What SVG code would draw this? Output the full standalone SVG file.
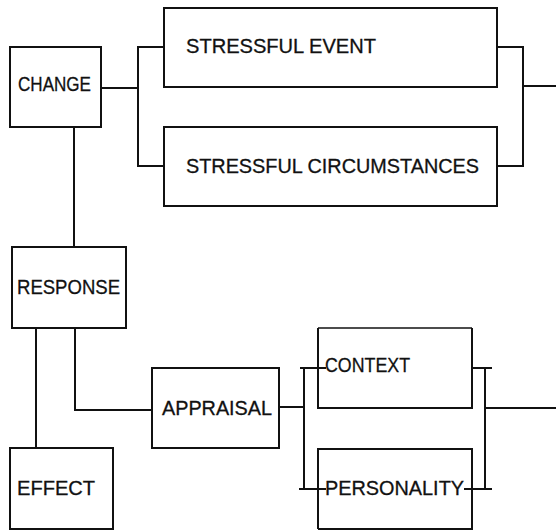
<svg xmlns="http://www.w3.org/2000/svg" width="556" height="530" viewBox="0 0 556 530">
  <style>
    .box { fill: none; stroke: #111; stroke-width: 2; }
    .thin { fill: none; stroke: #111; stroke-width: 1.5; }
    .wire { fill: none; stroke: #111; stroke-width: 2; stroke-linecap: square; }
    .label { font-family: "Liberation Sans", Arial, sans-serif; font-size: 21px; fill: #111; stroke: #111; stroke-width: 0.3; }
  </style>
  <rect width="556" height="530" fill="#fff"/>

  <g id="connectors">
    <!-- CHANGE fans out to the two stressor boxes -->
    <path class="wire" d="M101 88 H138 M138 47 V166 M138 47 H164 M138 166 H164"/>
    <!-- stressor boxes join and run off to the right -->
    <path class="wire" d="M497 47 H523 M497 166 H523 M523 47 V166 M523 86 H556"/>
    <!-- CHANGE down to RESPONSE -->
    <path class="wire" d="M74 127 V247"/>
    <!-- RESPONSE down to EFFECT -->
    <path class="wire" d="M36 328 V448"/>
    <!-- RESPONSE to APPRAISAL -->
    <path class="wire" d="M75 328 V410 H152"/>
    <!-- APPRAISAL to the context/personality bracket -->
    <path class="wire" d="M279 407 H304 M304 368 V489 M301 368 H325 M300 489 H325"/>
    <!-- right bracket and outgoing line -->
    <path class="wire" d="M472 368 H491 M465 489 H491 M485 368 V489 M485 408 H556"/>
  </g>

  <g id="change">
    <rect class="box" x="10" y="47" width="91" height="80"/>
    <text class="label" x="18" y="91" textLength="73" lengthAdjust="spacingAndGlyphs">CHANGE</text>
  </g>

  <g id="stressful-event">
    <rect class="box" x="164" y="8" width="333" height="79"/>
    <text class="label" x="186" y="53" textLength="190" lengthAdjust="spacingAndGlyphs">STRESSFUL EVENT</text>
  </g>

  <g id="stressful-circumstances">
    <rect class="box" x="164" y="127" width="333" height="79"/>
    <text class="label" x="186" y="173" textLength="293" lengthAdjust="spacingAndGlyphs">STRESSFUL CIRCUMSTANCES</text>
  </g>

  <g id="response">
    <rect class="box" x="12" y="247" width="114" height="81"/>
    <text class="label" x="17" y="294" textLength="103" lengthAdjust="spacingAndGlyphs">RESPONSE</text>
  </g>

  <g id="appraisal">
    <rect class="box" x="152" y="368" width="127" height="80"/>
    <text class="label" x="162" y="415" textLength="110" lengthAdjust="spacingAndGlyphs">APPRAISAL</text>
  </g>

  <g id="effect">
    <rect class="box" x="10" y="448" width="103" height="81"/>
    <text class="label" x="17" y="495" textLength="78" lengthAdjust="spacingAndGlyphs">EFFECT</text>
  </g>

  <g id="context">
    <path class="thin" d="M318 328 H472"/>
    <path class="box" d="M472 328 V408 H318 V328"/>
    <text class="label" x="325" y="372" textLength="85" lengthAdjust="spacingAndGlyphs">CONTEXT</text>
  </g>

  <g id="personality">
    <path class="box" d="M318 529 V449 H472 V529 H318"/>
    <text class="label" x="325" y="495" textLength="139" lengthAdjust="spacingAndGlyphs">PERSONALITY</text>
  </g>
</svg>
